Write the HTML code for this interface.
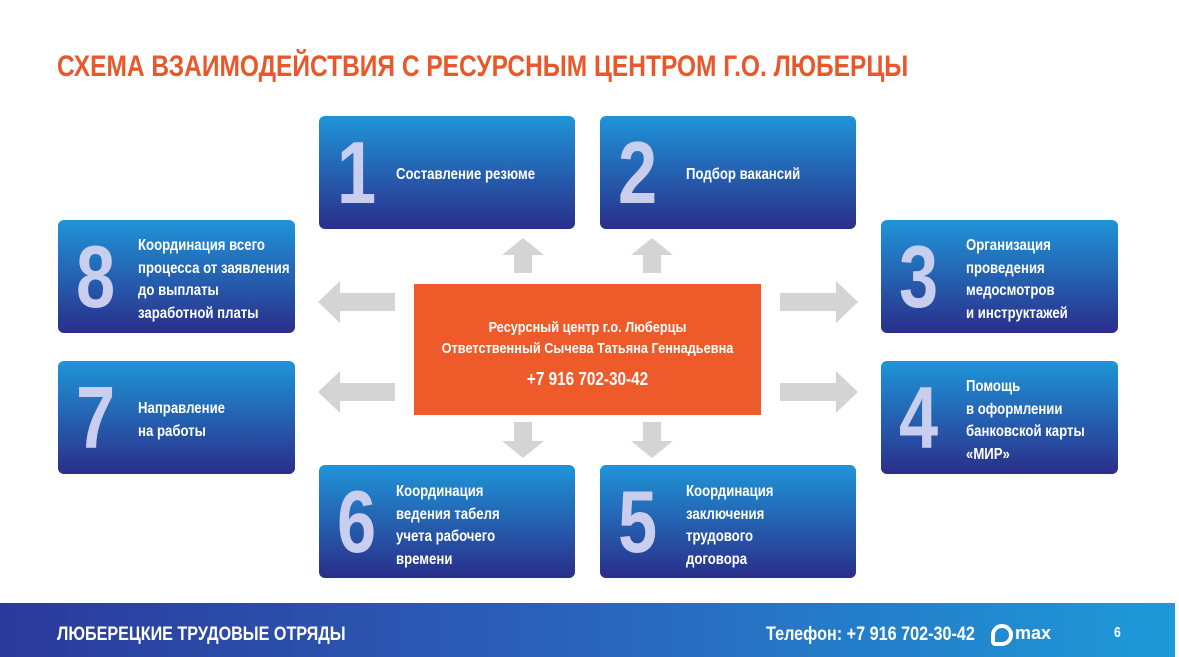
<!DOCTYPE html>
<html><head><meta charset="utf-8"><style>
body{margin:0;width:1179px;height:657px;background:#fff;position:relative;overflow:hidden;font-family:"Liberation Sans",sans-serif}
.t{position:absolute;white-space:nowrap;transform-origin:0 50%;transform:scaleX(.82)}
.title{left:57px;top:50px;font-size:30px;font-weight:bold;color:#e8582a;transform:scaleX(.817)}
.b{position:absolute;width:256px;height:113px;border-radius:6px;background:linear-gradient(#1f95d8,#2a2e8a)}
.s{width:237px}
.n{position:absolute;left:18px;top:12px;font-size:88px;font-weight:bold;color:#c9cdee;transform:scaleX(.8);transform-origin:0 0;line-height:90px}
.tx{position:absolute;left:77px;font-size:15.5px;font-weight:bold;color:#fff;line-height:22.5px;transform:scaleX(.85);transform-origin:0 0;white-space:nowrap}
.c{position:absolute;left:414px;top:284px;width:347px;height:131px;background:#ef5a2a;color:#fff;font-weight:bold;text-align:center}
.f{position:absolute;left:0;top:603px;width:1175px;height:54px;background:linear-gradient(90deg,#2b3a9a,#2b5fb8 45%,#1e9ad8)}
</style></head><body>
<div class="t title">СХЕМА ВЗАИМОДЕЙСТВИЯ С РЕСУРСНЫМ ЦЕНТРОМ Г.О. ЛЮБЕРЦЫ</div>

<div class="b" style="left:319px;top:116px"><div class="n">1</div><div class="tx" style="top:48px">Составление резюме</div></div>
<div class="b" style="left:600px;top:116px"><div class="n">2</div><div class="tx" style="top:48px;left:86px">Подбор вакансий</div></div>
<div class="b s" style="left:58px;top:220px"><div class="n">8</div><div class="tx" style="top:15px;left:80px">Координация всего<br>процесса от заявления<br>до выплаты<br>заработной платы</div></div>
<div class="b s" style="left:881px;top:220px"><div class="n">3</div><div class="tx" style="top:15px;left:85px">Организация<br>проведения<br>медосмотров<br>и инструктажей</div></div>
<div class="b s" style="left:58px;top:361px"><div class="n">7</div><div class="tx" style="top:37px;left:80px">Направление<br>на работы</div></div>
<div class="b s" style="left:881px;top:361px"><div class="n">4</div><div class="tx" style="top:15px;left:85px">Помощь<br>в оформлении<br>банковской карты<br>«МИР»</div></div>
<div class="b" style="left:319px;top:465px"><div class="n">6</div><div class="tx" style="top:16px">Координация<br>ведения табеля<br>учета рабочего<br>времени</div></div>
<div class="b" style="left:600px;top:465px"><div class="n">5</div><div class="tx" style="top:16px;left:86px">Координация<br>заключения<br>трудового<br>договора</div></div>

<div class="c"><div style="position:absolute;left:0;width:347px;top:33px;font-size:15px;line-height:21px;transform:scaleX(.85)">Ресурсный центр г.о. Люберцы<br>Ответственный Сычева Татьяна Геннадьевна</div>
<div style="position:absolute;left:0;width:347px;top:85px;font-size:18px;transform:scaleX(.85)">+7 916 702-30-42</div></div>

<svg width="1179" height="657" style="position:absolute;left:0;top:0" fill="#d4d4d4">
<polygon points="523,238 544,255 532,255 532,273 514,273 514,255 502,255"/>
<polygon points="652,238 673,255 661,255 661,273 643,273 643,255 631,255"/>
<polygon points="523,458 544,441 532,441 532,422 514,422 514,441 502,441"/>
<polygon points="652,458 673,441 661,441 661,422 643,422 643,441 631,441"/>
<polygon points="318,302 340,281 340,293 395,293 395,311 340,311 340,323"/>
<polygon points="318,392 340,371 340,383 395,383 395,401 340,401 340,413"/>
<polygon points="858,302 836,281 836,293 780,293 780,311 836,311 836,323"/>
<polygon points="858,392 836,371 836,383 780,383 780,401 836,401 836,413"/>
</svg>

<div class="f"></div>
<div class="t" style="left:57px;top:624px;font-size:19px;color:#fff;font-weight:bold;transform:scaleX(.85)">ЛЮБЕРЕЦКИЕ ТРУДОВЫЕ ОТРЯДЫ</div>
<div class="t" style="left:766px;top:623px;font-size:19.5px;color:#fff;font-weight:bold;transform:scaleX(.83)">Телефон: +7 916 702-30-42</div>
<div style="position:absolute;left:991px;top:624px;width:14px;height:14px;border:4px solid #fff;border-radius:50% 50% 50% 20%"></div>
<div class="t" style="left:1015px;top:623px;font-size:18px;color:#fff;font-weight:bold;transform:none">max</div>
<div class="t" style="left:1114px;top:624px;font-size:15px;color:#fff;font-weight:bold">6</div>
</body></html>
